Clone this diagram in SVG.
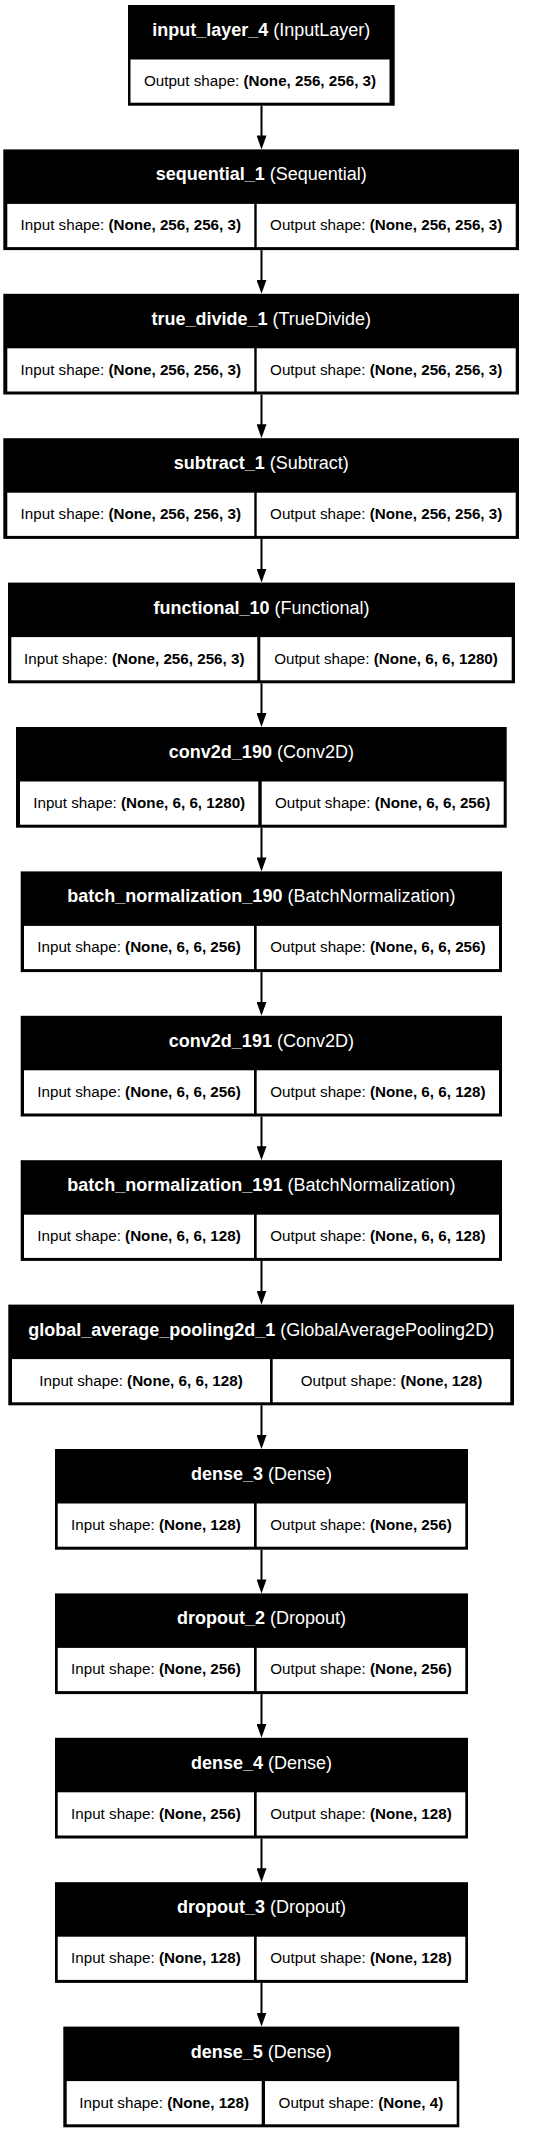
<svg xmlns="http://www.w3.org/2000/svg" width="557" height="2132" viewBox="0 0 557 2132">
<style>
.box{fill:#000}
.cell{fill:#fff}
.hd{font-family:"Liberation Sans",Arial,sans-serif;font-size:18px;fill:#fff;text-anchor:middle}
.ct{font-family:"Liberation Sans",Arial,sans-serif;font-size:15.2px;fill:#000;text-anchor:middle}
.b{font-weight:bold}
.edge{stroke:#000;stroke-width:2;fill:none;marker-end:url(#ah)}
</style>
<defs>
<marker id="ah" viewBox="0 0 14 10" refX="2" refY="5" markerWidth="14" markerHeight="10" markerUnits="userSpaceOnUse" orient="auto"><path d="M0,0 L14,5 L0,10 z" fill="#000"/></marker>
</defs>
<rect width="557" height="2132" fill="#fff"/>
<g id="connectors">
<line class="edge" x1="261.5" y1="105.7" x2="261.5" y2="137.4"/>
<line class="edge" x1="261.5" y1="250.1" x2="261.5" y2="281.8"/>
<line class="edge" x1="261.5" y1="394.5" x2="261.5" y2="426.2"/>
<line class="edge" x1="261.5" y1="538.9" x2="261.5" y2="570.6"/>
<line class="edge" x1="261.5" y1="683.3" x2="261.5" y2="715"/>
<line class="edge" x1="261.5" y1="827.7" x2="261.5" y2="859.4"/>
<line class="edge" x1="261.5" y1="972.1" x2="261.5" y2="1003.8"/>
<line class="edge" x1="261.5" y1="1116.5" x2="261.5" y2="1148.2"/>
<line class="edge" x1="261.5" y1="1260.9" x2="261.5" y2="1292.6"/>
<line class="edge" x1="261.5" y1="1405.3" x2="261.5" y2="1437"/>
<line class="edge" x1="261.5" y1="1549.7" x2="261.5" y2="1581.4"/>
<line class="edge" x1="261.5" y1="1694.1" x2="261.5" y2="1725.8"/>
<line class="edge" x1="261.5" y1="1838.5" x2="261.5" y2="1870.2"/>
<line class="edge" x1="261.5" y1="1982.9" x2="261.5" y2="2014.6"/>
</g>
<g id="input_layer_4">
<rect class="box" x="128" y="5" width="266.7" height="100.7"/>
<rect class="cell" x="130.5" y="59.5" width="259" height="43.2"/>
<text class="hd" x="261.3" y="36"><tspan class="b">input_layer_4</tspan> (InputLayer)</text>
<text class="ct" x="260" y="86">Output shape: <tspan class="b">(None, 256, 256, 3)</tspan></text>
</g>
<g id="sequential_1">
<rect class="box" x="3.3" y="149.4" width="515.7" height="100.7"/>
<rect class="cell" x="7.3" y="203.9" width="247" height="43.2"/>
<rect class="cell" x="256.7" y="203.9" width="259" height="43.2"/>
<text class="hd" x="261.2" y="180.4"><tspan class="b">sequential_1</tspan> (Sequential)</text>
<text class="ct" x="130.8" y="230.4">Input shape: <tspan class="b">(None, 256, 256, 3)</tspan></text>
<text class="ct" x="386.2" y="230.4">Output shape: <tspan class="b">(None, 256, 256, 3)</tspan></text>
</g>
<g id="true_divide_1">
<rect class="box" x="3.3" y="293.8" width="515.7" height="100.7"/>
<rect class="cell" x="7.3" y="348.3" width="247" height="43.2"/>
<rect class="cell" x="256.7" y="348.3" width="259" height="43.2"/>
<text class="hd" x="261.2" y="324.8"><tspan class="b">true_divide_1</tspan> (TrueDivide)</text>
<text class="ct" x="130.8" y="374.8">Input shape: <tspan class="b">(None, 256, 256, 3)</tspan></text>
<text class="ct" x="386.2" y="374.8">Output shape: <tspan class="b">(None, 256, 256, 3)</tspan></text>
</g>
<g id="subtract_1">
<rect class="box" x="3.3" y="438.2" width="515.7" height="100.7"/>
<rect class="cell" x="7.3" y="492.7" width="247" height="43.2"/>
<rect class="cell" x="256.7" y="492.7" width="259" height="43.2"/>
<text class="hd" x="261.2" y="469.2"><tspan class="b">subtract_1</tspan> (Subtract)</text>
<text class="ct" x="130.8" y="519.2">Input shape: <tspan class="b">(None, 256, 256, 3)</tspan></text>
<text class="ct" x="386.2" y="519.2">Output shape: <tspan class="b">(None, 256, 256, 3)</tspan></text>
</g>
<g id="functional_10">
<rect class="box" x="8" y="582.6" width="507" height="100.7"/>
<rect class="cell" x="11.3" y="637.1" width="246" height="43.2"/>
<rect class="cell" x="260.3" y="637.1" width="251.4" height="43.2"/>
<text class="hd" x="261.5" y="613.6"><tspan class="b">functional_10</tspan> (Functional)</text>
<text class="ct" x="134.3" y="663.6">Input shape: <tspan class="b">(None, 256, 256, 3)</tspan></text>
<text class="ct" x="386" y="663.6">Output shape: <tspan class="b">(None, 6, 6, 1280)</tspan></text>
</g>
<g id="conv2d_190">
<rect class="box" x="16" y="727" width="490.7" height="100.7"/>
<rect class="cell" x="20" y="781.5" width="238.3" height="43.2"/>
<rect class="cell" x="261.7" y="781.5" width="242" height="43.2"/>
<text class="hd" x="261.4" y="758"><tspan class="b">conv2d_190</tspan> (Conv2D)</text>
<text class="ct" x="139.2" y="808">Input shape: <tspan class="b">(None, 6, 6, 1280)</tspan></text>
<text class="ct" x="382.7" y="808">Output shape: <tspan class="b">(None, 6, 6, 256)</tspan></text>
</g>
<g id="batch_normalization_190">
<rect class="box" x="20.7" y="871.4" width="481.3" height="100.7"/>
<rect class="cell" x="24" y="925.9" width="230" height="43.2"/>
<rect class="cell" x="256.7" y="925.9" width="242.3" height="43.2"/>
<text class="hd" x="261.4" y="902.4"><tspan class="b">batch_normalization_190</tspan> (BatchNormalization)</text>
<text class="ct" x="139" y="952.4">Input shape: <tspan class="b">(None, 6, 6, 256)</tspan></text>
<text class="ct" x="377.9" y="952.4">Output shape: <tspan class="b">(None, 6, 6, 256)</tspan></text>
</g>
<g id="conv2d_191">
<rect class="box" x="20.7" y="1015.8" width="481.3" height="100.7"/>
<rect class="cell" x="24" y="1070.3" width="230" height="43.2"/>
<rect class="cell" x="256.7" y="1070.3" width="242.3" height="43.2"/>
<text class="hd" x="261.4" y="1046.8"><tspan class="b">conv2d_191</tspan> (Conv2D)</text>
<text class="ct" x="139" y="1096.8">Input shape: <tspan class="b">(None, 6, 6, 256)</tspan></text>
<text class="ct" x="377.9" y="1096.8">Output shape: <tspan class="b">(None, 6, 6, 128)</tspan></text>
</g>
<g id="batch_normalization_191">
<rect class="box" x="20.7" y="1160.2" width="481.3" height="100.7"/>
<rect class="cell" x="24" y="1214.7" width="230" height="43.2"/>
<rect class="cell" x="256.7" y="1214.7" width="242.3" height="43.2"/>
<text class="hd" x="261.4" y="1191.2"><tspan class="b">batch_normalization_191</tspan> (BatchNormalization)</text>
<text class="ct" x="139" y="1241.2">Input shape: <tspan class="b">(None, 6, 6, 128)</tspan></text>
<text class="ct" x="377.9" y="1241.2">Output shape: <tspan class="b">(None, 6, 6, 128)</tspan></text>
</g>
<g id="global_average_pooling2d_1">
<rect class="box" x="8.3" y="1304.6" width="505.7" height="100.7"/>
<rect class="cell" x="12" y="1359.1" width="258" height="43.2"/>
<rect class="cell" x="272.7" y="1359.1" width="237.6" height="43.2"/>
<text class="hd" x="261.2" y="1335.6"><tspan class="b">global_average_pooling2d_1</tspan> (GlobalAveragePooling2D)</text>
<text class="ct" x="141" y="1385.6">Input shape: <tspan class="b">(None, 6, 6, 128)</tspan></text>
<text class="ct" x="391.5" y="1385.6">Output shape: <tspan class="b">(None, 128)</tspan></text>
</g>
<g id="dense_3">
<rect class="box" x="55" y="1449" width="413" height="100.7"/>
<rect class="cell" x="57.7" y="1503.5" width="196.3" height="43.2"/>
<rect class="cell" x="256.7" y="1503.5" width="208.6" height="43.2"/>
<text class="hd" x="261.5" y="1480"><tspan class="b">dense_3</tspan> (Dense)</text>
<text class="ct" x="155.9" y="1530">Input shape: <tspan class="b">(None, 128)</tspan></text>
<text class="ct" x="361" y="1530">Output shape: <tspan class="b">(None, 256)</tspan></text>
</g>
<g id="dropout_2">
<rect class="box" x="55" y="1593.4" width="413" height="100.7"/>
<rect class="cell" x="57.7" y="1647.9" width="196.3" height="43.2"/>
<rect class="cell" x="256.7" y="1647.9" width="208.6" height="43.2"/>
<text class="hd" x="261.5" y="1624.4"><tspan class="b">dropout_2</tspan> (Dropout)</text>
<text class="ct" x="155.9" y="1674.4">Input shape: <tspan class="b">(None, 256)</tspan></text>
<text class="ct" x="361" y="1674.4">Output shape: <tspan class="b">(None, 256)</tspan></text>
</g>
<g id="dense_4">
<rect class="box" x="55" y="1737.8" width="413" height="100.7"/>
<rect class="cell" x="57.7" y="1792.3" width="196.3" height="43.2"/>
<rect class="cell" x="256.7" y="1792.3" width="208.6" height="43.2"/>
<text class="hd" x="261.5" y="1768.8"><tspan class="b">dense_4</tspan> (Dense)</text>
<text class="ct" x="155.9" y="1818.8">Input shape: <tspan class="b">(None, 256)</tspan></text>
<text class="ct" x="361" y="1818.8">Output shape: <tspan class="b">(None, 128)</tspan></text>
</g>
<g id="dropout_3">
<rect class="box" x="55" y="1882.2" width="413" height="100.7"/>
<rect class="cell" x="57.7" y="1936.7" width="196.3" height="43.2"/>
<rect class="cell" x="256.7" y="1936.7" width="208.6" height="43.2"/>
<text class="hd" x="261.5" y="1913.2"><tspan class="b">dropout_3</tspan> (Dropout)</text>
<text class="ct" x="155.9" y="1963.2">Input shape: <tspan class="b">(None, 128)</tspan></text>
<text class="ct" x="361" y="1963.2">Output shape: <tspan class="b">(None, 128)</tspan></text>
</g>
<g id="dense_5">
<rect class="box" x="63.3" y="2026.6" width="396" height="100.7"/>
<rect class="cell" x="66.7" y="2081.1" width="195" height="43.2"/>
<rect class="cell" x="265" y="2081.1" width="191.7" height="43.2"/>
<text class="hd" x="261.3" y="2057.6"><tspan class="b">dense_5</tspan> (Dense)</text>
<text class="ct" x="164.2" y="2107.6">Input shape: <tspan class="b">(None, 128)</tspan></text>
<text class="ct" x="360.9" y="2107.6">Output shape: <tspan class="b">(None, 4)</tspan></text>
</g>
</svg>
